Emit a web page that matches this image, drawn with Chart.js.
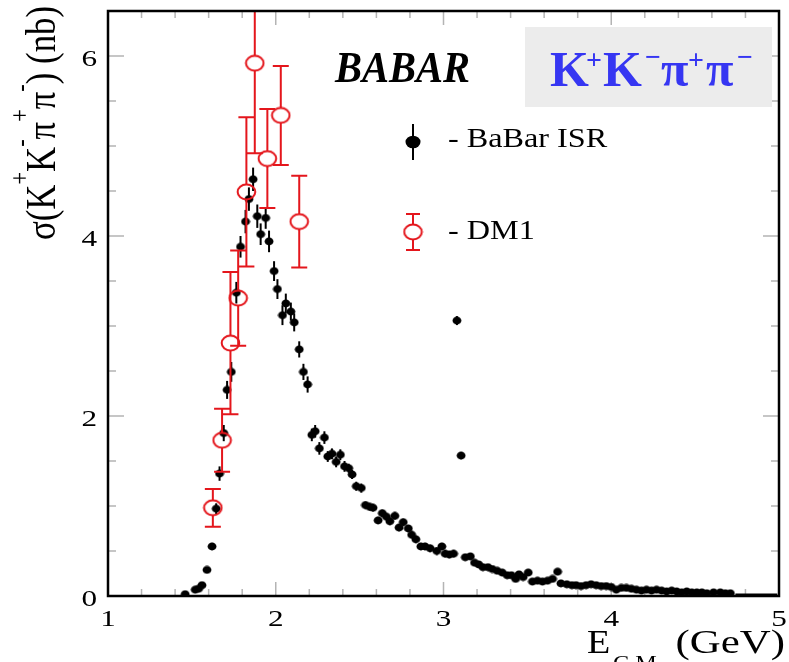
<!DOCTYPE html>
<html>
<head>
<meta charset="utf-8">
<script src="https://cdn.jsdelivr.net/npm/chart.js@4.4.1/dist/chart.umd.min.js"></script>
<style>
  html, body { margin: 0; padding: 0; background: #fff; }
  canvas { display: block; }
</style>
</head>
<body>
<canvas id="myChart" width="789" height="662"></canvas>
<script>
/* globals Chart:false */

// BaBar ISR points (E c.m. in GeV, cross section in nb)
const babarE = [
  1.46, 1.52, 1.54, 1.56, 1.59, 1.62, 1.645, 1.665, 1.69, 1.71,
  1.735, 1.765, 1.79, 1.82, 1.84, 1.865, 1.89, 1.91, 1.94, 1.96,
  1.99, 2.01, 2.04, 2.06, 2.09, 2.11, 2.14, 2.165, 2.19, 2.215,
  2.235, 2.26, 2.29, 2.31, 2.335, 2.36, 2.385, 2.41, 2.435, 2.455,
  2.48, 2.51, 2.535, 2.56, 2.58, 2.61, 2.635, 2.66, 2.68, 2.71,
  2.735, 2.76, 2.79, 2.81, 2.835, 2.865, 2.89, 2.92, 2.96, 2.99,
  3.01, 3.035, 3.06, 3.08, 3.105, 3.13, 3.16, 3.185, 3.21, 3.235,
  3.265, 3.29, 3.32, 3.35, 3.38, 3.405, 3.43, 3.45, 3.475, 3.505,
  3.53, 3.56, 3.59, 3.62, 3.65, 3.68, 3.70, 3.735, 3.765, 3.79,
  3.82, 3.85, 3.88, 3.91, 3.94, 3.97, 4.0, 4.03, 4.06, 4.09,
  4.12, 4.15, 4.18, 4.21, 4.24, 4.27, 4.30, 4.33, 4.36, 4.39,
  4.42, 4.45, 4.48, 4.51, 4.54, 4.57, 4.61, 4.65, 4.68, 4.71
]
const babarY = [
  0.02, 0.07, 0.08, 0.12, 0.29, 0.55, 0.97, 1.36, 1.81, 2.29,
  2.49, 3.37, 3.88, 4.16, 4.41, 4.63, 4.22, 4.02, 4.20, 3.94,
  3.61, 3.41, 3.12, 3.25, 3.16, 3.04, 2.74, 2.49, 2.35, 1.79,
  1.83, 1.64, 1.76, 1.55, 1.58, 1.49, 1.57, 1.44, 1.42, 1.35,
  1.22, 1.20, 1.01, 0.99, 0.98, 0.84, 0.92, 0.88, 0.83, 0.89,
  0.76, 0.82, 0.75, 0.68, 0.63, 0.55, 0.55, 0.53, 0.50, 0.55,
  0.47, 0.46, 0.47, 3.06, 1.56, 0.43, 0.44, 0.37, 0.35, 0.32,
  0.32, 0.30, 0.28, 0.26, 0.23, 0.23, 0.19, 0.24, 0.21, 0.26,
  0.16, 0.17, 0.16, 0.17, 0.19, 0.27, 0.14, 0.13, 0.12, 0.12,
  0.11, 0.12, 0.13, 0.12, 0.11, 0.11, 0.10, 0.07, 0.09, 0.09,
  0.08, 0.07, 0.06, 0.07, 0.06, 0.07, 0.06, 0.05, 0.06, 0.05,
  0.04, 0.05, 0.04, 0.04, 0.04, 0.03, 0.04, 0.04, 0.03, 0.03
]
const babarErr = [
  0.02, 0.02, 0.02, 0.02, 0.03, 0.04, 0.06, 0.08, 0.09, 0.10,
  0.11, 0.12, 0.12, 0.13, 0.13, 0.13, 0.13, 0.12, 0.12, 0.12,
  0.11, 0.11, 0.11, 0.11, 0.10, 0.10, 0.09, 0.09, 0.09, 0.07,
  0.07, 0.07, 0.07, 0.06, 0.06, 0.06, 0.06, 0.06, 0.05, 0.05,
  0.05, 0.05, 0.04, 0.04, 0.04, 0.04, 0.04, 0.04, 0.04, 0.04,
  0.04, 0.04, 0.04, 0.04, 0.04, 0.04, 0.04, 0.04, 0.04, 0.04,
  0.04, 0.04, 0.04, 0.05, 0.04, 0.03, 0.03, 0.03, 0.03, 0.03,
  0.03, 0.03, 0.03, 0.03, 0.03, 0.03, 0.03, 0.03, 0.03, 0.03,
  0.02, 0.02, 0.02, 0.02, 0.02, 0.02, 0.02, 0.02, 0.02, 0.02,
  0.02, 0.02, 0.02, 0.02, 0.02, 0.02, 0.02, 0.02, 0.02, 0.02,
  0.02, 0.02, 0.02, 0.02, 0.02, 0.02, 0.02, 0.02, 0.02, 0.02,
  0.02, 0.02, 0.02, 0.02, 0.02, 0.02, 0.02, 0.02, 0.02, 0.02
]
// empty bins at the high end
const babarTailE = [4.74, 4.99]
const babarTailY = [0.02, 0.02]

// DM1 points
const dm1E = [1.625, 1.68, 1.73, 1.776, 1.825, 1.875, 1.95, 2.03, 2.14]
const dm1Y = [0.98, 1.73, 2.81, 3.31, 4.49, 5.92, 4.86, 5.34, 4.16]
const dm1Err = [0.21, 0.35, 0.79, 0.53, 0.83, 1.0, 0.55, 0.55, 0.51]
const dm1ZeroE = [1.42, 1.60]
const dm1ZeroY = [0, 0]

// axes
const xTickLabels = [1, 2, 3, 4, 5]
const yTickLabels = [0, 2, 4, 6]
const xMinorStep = 0.2
const yMinorStep = 0.5

const SERIF = '"Liberation Serif", "DejaVu Serif", serif'
const RED = '#e4161c'

function stretchText (ctx, txt, x, y, sx, align) {
  ctx.save()
  ctx.translate(x, y)
  ctx.scale(sx, 1)
  ctx.textAlign = align || 'left'
  ctx.fillText(txt, 0, 0)
  ctx.restore()
}

// open red ellipse used as DM1 marker
const dm1Marker = document.createElement('canvas')
dm1Marker.width = 21
dm1Marker.height = 18
;(() => {
  const c = dm1Marker.getContext('2d')
  c.strokeStyle = RED
  c.lineWidth = 2
  c.beginPath()
  c.ellipse(10.5, 9, 8.8, 7.4, 0, 0, Math.PI * 2)
  c.stroke()
})()

// filled black dot, a bit wider than tall like the original
const babarMarker = document.createElement('canvas')
babarMarker.width = 10
babarMarker.height = 9
;(() => {
  const c = babarMarker.getContext('2d')
  c.fillStyle = '#000'
  c.beginPath()
  c.ellipse(5, 4.5, 4.4, 3.9, 0, 0, Math.PI * 2)
  c.fill()
})()

const frameAndTicks = {
  id: 'frameAndTicks',
  beforeDatasetsDraw (chart) {
    const { ctx, chartArea: a, scales: { x, y } } = chart
    ctx.save()
    ctx.strokeStyle = '#b4b4b4'
    ctx.lineWidth = 1.5
    const xMaj = new Set(xTickLabels.map(v => v.toFixed(2)))
    for (let v = x.min; v <= x.max + 1e-9; v += xMinorStep) {
      const px = x.getPixelForValue(v)
      const len = xMaj.has(v.toFixed(2)) ? 14 : 7
      ctx.beginPath()
      ctx.moveTo(px, a.bottom); ctx.lineTo(px, a.bottom - len)
      ctx.moveTo(px, a.top); ctx.lineTo(px, a.top + len)
      ctx.stroke()
    }
    const yMaj = new Set(yTickLabels.map(v => v.toFixed(2)))
    for (let v = y.min; v <= y.max + 1e-9; v += yMinorStep) {
      const py = y.getPixelForValue(v)
      const len = yMaj.has(v.toFixed(2)) ? 16 : 8
      ctx.beginPath()
      ctx.moveTo(a.left, py); ctx.lineTo(a.left + len, py)
      ctx.moveTo(a.right, py); ctx.lineTo(a.right - len, py)
      ctx.stroke()
    }

    // BaBar error bars (under the dots)
    ctx.beginPath()
    ctx.rect(a.left, a.top, a.right - a.left, a.bottom - a.top)
    ctx.clip()
    ctx.strokeStyle = '#000'
    ctx.lineWidth = 2
    babarE.forEach((e, i) => {
      const px = x.getPixelForValue(e)
      ctx.beginPath()
      ctx.moveTo(px, y.getPixelForValue(babarY[i] - babarErr[i]))
      ctx.lineTo(px, y.getPixelForValue(babarY[i] + babarErr[i]))
      ctx.stroke()
    })
    ctx.restore()
  },
  afterDatasetsDraw (chart) {
    const { ctx, chartArea: a, scales: { x, y } } = chart
    ctx.save()
    ctx.beginPath()
    ctx.rect(a.left, a.top, a.right - a.left, a.bottom - a.top)
    ctx.clip()
    ctx.strokeStyle = RED
    ctx.lineWidth = 2
    const gap = 7.4
    const cap = 8
    dm1E.forEach((e, i) => {
      const px = x.getPixelForValue(e)
      const pc = y.getPixelForValue(dm1Y[i])
      const pt = y.getPixelForValue(dm1Y[i] + dm1Err[i])
      const pb = y.getPixelForValue(dm1Y[i] - dm1Err[i])
      ctx.beginPath()
      ctx.moveTo(px, pc - gap); ctx.lineTo(px, pt)
      ctx.moveTo(px, pc + gap); ctx.lineTo(px, pb)
      ctx.moveTo(px - cap, pt); ctx.lineTo(px + cap, pt)
      ctx.moveTo(px - cap, pb); ctx.lineTo(px + cap, pb)
      ctx.stroke()
    })
    ctx.restore()
  },
  afterDraw (chart) {
    const { ctx, chartArea: a, scales: { x, y } } = chart
    ctx.save()
    // frame
    ctx.strokeStyle = '#000'
    ctx.lineWidth = 2.5
    ctx.strokeRect(a.left, a.top, a.right - a.left, a.bottom - a.top)

    // tick labels
    ctx.fillStyle = '#000'
    ctx.font = '24px ' + SERIF
    xTickLabels.forEach(v => {
      stretchText(ctx, String(v), x.getPixelForValue(v), a.bottom + 30, 1.3, 'center')
    })
    yTickLabels.forEach(v => {
      stretchText(ctx, String(v), a.left - 11, y.getPixelForValue(v) + 10, 1.3, 'right')
    })

    // y title, laid out along the axis then fitted to its length
    ctx.save()
    ctx.translate(55, 240)
    ctx.scale(1.35, 1)
    ctx.rotate(-Math.PI / 2)
    const yParts = [['σ(K', 0], ['+', 1], ['K', 0], ['-', 1], ['π', 0], ['+', 1], ['π', 0], ['-', 1], [') (nb)', 0]]
    let total = 0
    yParts.forEach(([t, sup]) => {
      ctx.font = (sup ? '20px ' : '31px ') + SERIF
      total += ctx.measureText(t).width
    })
    ctx.scale(234 / total, 1)
    let cx = 0
    yParts.forEach(([t, sup]) => {
      ctx.font = (sup ? '20px ' : '31px ') + SERIF
      ctx.fillText(t, cx, sup ? -19 : 0)
      cx += ctx.measureText(t).width
    })
    ctx.restore()

    // x title
    ctx.font = '34px ' + SERIF
    stretchText(ctx, 'E', 587, 653, 1.12)
    ctx.font = '22px ' + SERIF
    stretchText(ctx, 'C.M.', 613, 670, 1.1)
    ctx.font = '34px ' + SERIF
    stretchText(ctx, '(GeV)', 785, 653, 1.26, 'right')

    // BABAR
    ctx.font = 'bold italic 45px ' + SERIF
    const bw = ctx.measureText('BABAR').width
    stretchText(ctx, 'BABAR', 335, 82, 135 / bw)

    // channel box
    ctx.fillStyle = '#ececec'
    ctx.fillRect(525, 27, 247, 80)
    ctx.fillStyle = '#3636f2'
    const chParts = [['K', 550, 86, 50], ['+', 586, 69, 28], ['K', 603, 86, 50], ['\u2212', 645, 66, 28],
      ['π', 661, 86, 50], ['+', 688, 69, 28], ['π', 706, 86, 50], ['\u2212', 737, 66, 28]]
    chParts.forEach(([t, px, py, fs]) => {
      ctx.font = 'bold ' + fs + 'px ' + SERIF
      ctx.fillText(t, px, py)
    })

    // legend
    const ds = chart.data.datasets
    ctx.strokeStyle = '#000'
    ctx.lineWidth = 2
    ctx.beginPath(); ctx.moveTo(413, 124); ctx.lineTo(413, 160); ctx.stroke()
    ctx.fillStyle = '#000'
    ctx.beginPath(); ctx.ellipse(413, 142, 7.5, 6.3, 0, 0, Math.PI * 2); ctx.fill()
    ctx.font = '28px ' + SERIF
    stretchText(ctx, '- ' + ds[0].label, 448, 147, 1.15)

    ctx.strokeStyle = RED
    ctx.beginPath()
    ctx.moveTo(413, 214); ctx.lineTo(413, 224.6)
    ctx.moveTo(413, 239.4); ctx.lineTo(413, 250)
    ctx.moveTo(406, 214); ctx.lineTo(420, 214)
    ctx.moveTo(406, 250); ctx.lineTo(420, 250)
    ctx.stroke()
    ctx.drawImage(dm1Marker, 413 - 10.5, 232 - 9)
    ctx.fillStyle = '#000'
    stretchText(ctx, '- ' + ds[2].label, 448, 239, 1.15)
    ctx.restore()
  }
}

const ctx = document.getElementById('myChart')
// eslint-disable-next-line no-unused-vars
const myChart = new Chart(ctx, {
  type: 'scatter',
  data: {
    datasets: [{
      label: 'BaBar ISR',
      data: babarE.map((e, i) => ({ x: e, y: babarY[i] })),
      pointStyle: babarMarker,
      pointRadius: 4.4,
      order: 2
    }, {
      label: 'BaBar ISR empty bins',
      data: babarTailE.map((e, i) => ({ x: e, y: babarTailY[i] })),
      showLine: true,
      pointRadius: 0,
      borderColor: '#000',
      borderWidth: 1.5,
      order: 3
    }, {
      label: 'DM1',
      data: dm1E.map((e, i) => ({ x: e, y: dm1Y[i] })),
      pointStyle: dm1Marker,
      pointRadius: 9,
      order: 1
    }, {
      label: 'DM1 zero',
      data: dm1ZeroE.map((e, i) => ({ x: e, y: dm1ZeroY[i] })),
      showLine: true,
      pointRadius: 0,
      borderColor: RED,
      borderWidth: 2,
      order: 4
    }]
  },
  options: {
    responsive: false,
    animation: false,
    events: [],
    layout: { padding: { left: 108, top: 11, right: 2, bottom: 66 } },
    scales: {
      x: { type: 'linear', min: 1, max: 5, display: false },
      y: { type: 'linear', min: 0, max: 6.5, display: false }
    },
    plugins: {
      legend: { display: false },
      tooltip: { enabled: false }
    }
  },
  plugins: [frameAndTicks]
})
</script>
</body>
</html>
